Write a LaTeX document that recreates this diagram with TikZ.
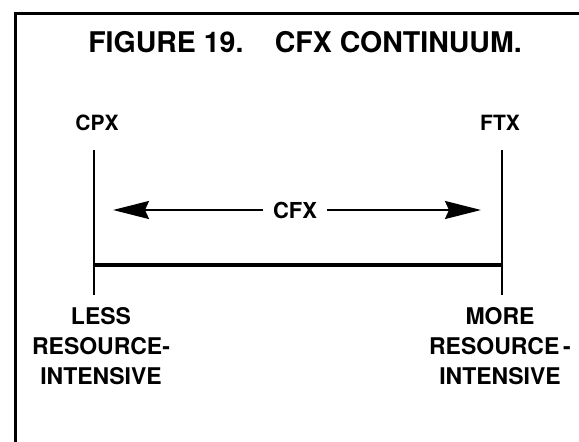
\documentclass[tikz,border=0pt]{standalone}
\usepackage{fontspec}
\setmainfont{TeX Gyre Heros}
\usetikzlibrary{arrows.meta}
\begin{document}
\begin{tikzpicture}[x=1pt,y=-1pt,
  titlefont/.style={font=\bfseries\fontsize{28.5}{32}\selectfont},
  endfont/.style={font=\bfseries\fontsize{21}{24}\selectfont},
  labfont/.style={font=\bfseries\fontsize{23}{30}\selectfont, align=center, inner sep=0pt, anchor=north},
  tick/.style={line width=2pt},
  bar/.style={line width=3.5pt},
  arr/.style={line width=2pt, -{Stealth[length=36pt,width=18pt,inset=4pt]}}
]
\useasboundingbox (0,0) rectangle (579,442);
% frame
\draw[line width=3pt] (15,442) -- (15,13) -- (579,13);
% title
\node[titlefont, anchor=base] (title) at (305,52) {FIGURE 19.\hspace{1.1em}CFX CONTINUUM.};
% end labels
\node[endfont, anchor=base] (cpx) at (97,130) {CPX};
\node[endfont, anchor=base] (ftx) at (500,130) {FTX};
% vertical ticks
\coordinate (cpxTop) at (94,150);
\coordinate (cpxBot) at (94,295);
\coordinate (ftxTop) at (502,150);
\coordinate (ftxBot) at (502,295);
\draw[tick] (cpxTop) -- (cpxBot);
\draw[tick] (ftxTop) -- (ftxBot);
% bar
\coordinate (barL) at (94,265);
\coordinate (barR) at (502,265);
\draw[bar] (barL) -- (barR);
% arrow
\node[endfont, font=\bfseries\fontsize{22}{24}\selectfont, inner sep=10pt] (cfx) at (295,210) {CFX};
\coordinate (aL) at (113,210);
\coordinate (aR) at (481,210);
\draw[arr] (cfx.west) -- (aL);
\draw[arr] (cfx.east) -- (aR);
% bottom labels
\node[labfont] (less) at (101,307) {LESS\\RESOURCE-\\INTENSIVE};
\node[labfont] (more) at (500,307) {MORE\\RESOURCE\,-\\INTENSIVE};
\end{tikzpicture}
\end{document}
